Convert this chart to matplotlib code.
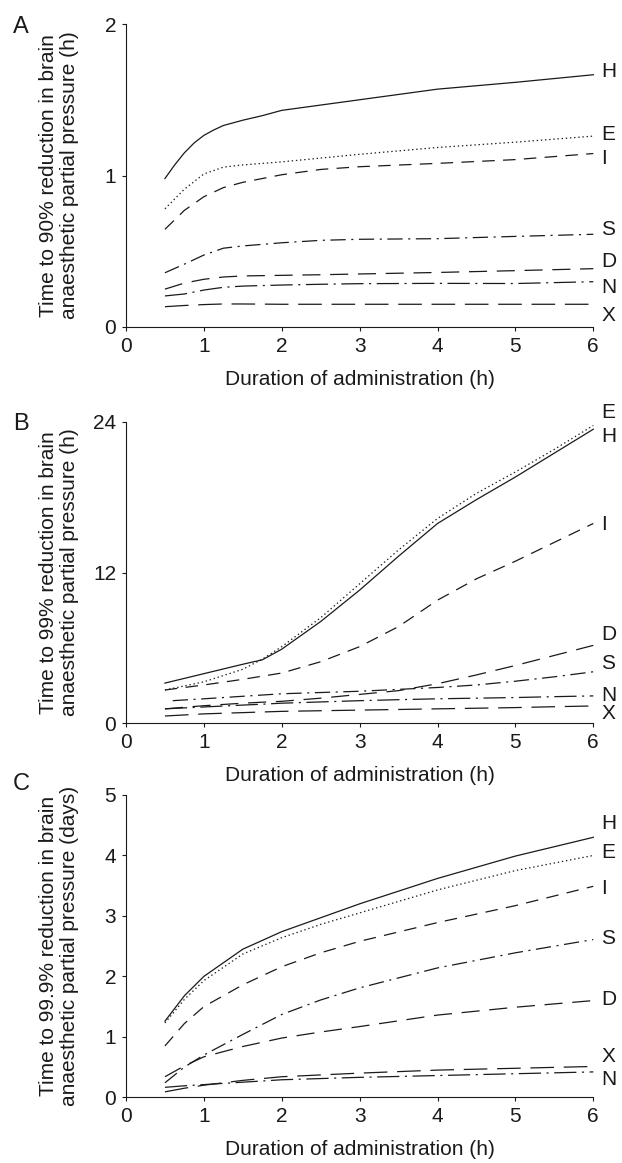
import matplotlib
matplotlib.use("Agg")
import matplotlib.pyplot as plt

plt.rcParams["font.family"] = ["Liberation Sans", "DejaVu Sans"]
plt.rcParams["lines.scale_dashes"] = False

# ---- data ----
drugs = ["H", "E", "I", "S", "D", "N", "X"]

# panel A: time to 90% reduction (h)
xa = [0.5, 0.75, 1, 1.25, 1.5, 2, 2.5, 3, 4, 5, 6]
xa_H = [0.5, 0.625, 0.75, 0.875, 1, 1.125, 1.25, 1.5, 1.75, 2, 2.5, 3, 4, 5, 6]
a_H = [0.98, 1.07, 1.15, 1.215, 1.265, 1.30, 1.33, 1.365, 1.395, 1.43,
       1.465, 1.50, 1.57, 1.615, 1.665]
a_E = [0.78, 0.91, 1.01, 1.055, 1.07, 1.09, 1.115, 1.14, 1.185, 1.22, 1.26]
a_I = [0.645, 0.77, 0.86, 0.92, 0.955, 1.005, 1.04, 1.058, 1.08, 1.105, 1.145]
a_S = [0.358, 0.415, 0.475, 0.52, 0.535, 0.556, 0.572, 0.579, 0.583, 0.598, 0.612]
a_D = [0.25, 0.29, 0.315, 0.33, 0.337, 0.341, 0.345, 0.35, 0.36, 0.372, 0.385]
a_N = [0.205, 0.218, 0.244, 0.262, 0.27, 0.277, 0.282, 0.286, 0.288, 0.287, 0.299]
a_X = [0.134, 0.142, 0.148, 0.152, 0.152, 0.15, 0.15, 0.15, 0.15, 0.15, 0.15]

# panel B: time to 99% reduction (h)
xb = [0.5, 1, 1.5, 1.75, 2, 2.5, 3, 3.5, 4, 4.5, 5, 5.5, 6]
xb_S = [0.6, 1, 1.5, 2, 2.5, 3, 3.5, 4, 4.5, 5, 5.5, 6]
b_H = [3.2, 3.95, 4.7, 5.05, 5.9, 8.1, 10.6, 13.3, 15.9, 17.8, 19.6, 21.5, 23.4]
b_E = [2.65, 3.3, 4.3, 5.1, 6.1, 8.4, 11.1, 13.8, 16.3, 18.3, 20.0, 21.8, 23.7]
b_I = [2.65, 3.05, 3.5, 3.75, 4.0, 4.9, 6.1, 7.7, 9.8, 11.5, 12.9, 14.4, 15.9]
b_S = [1.8, 1.95, 2.15, 2.35, 2.45, 2.55, 2.7, 2.85, 3.05, 3.35, 3.7, 4.1]
b_D = [1.15, 1.4, 1.6, 1.68, 1.75, 2.0, 2.3, 2.6, 3.15, 3.85, 4.6, 5.4, 6.2]
b_N = [1.15, 1.3, 1.45, 1.52, 1.6, 1.7, 1.8, 1.88, 1.95, 2.0, 2.05, 2.12, 2.18]
b_X = [0.58, 0.75, 0.85, 0.9, 0.95, 1.0, 1.05, 1.1, 1.15, 1.2, 1.25, 1.32, 1.38]

# panel C: time to 99.9% reduction (days)
xc = [0.5, 0.75, 1, 1.5, 2, 2.5, 3, 4, 5, 6]
c_H = [1.26, 1.68, 2.0, 2.45, 2.74, 2.97, 3.2, 3.62, 3.99, 4.30]
c_E = [1.23, 1.62, 1.93, 2.37, 2.64, 2.86, 3.05, 3.43, 3.75, 4.0]
c_I = [0.85, 1.22, 1.5, 1.86, 2.16, 2.39, 2.58, 2.89, 3.17, 3.49]
c_S = [0.24, 0.5, 0.7, 1.04, 1.37, 1.61, 1.81, 2.14, 2.39, 2.61]
c_D = [0.34, 0.52, 0.67, 0.84, 0.98, 1.08, 1.17, 1.36, 1.49, 1.60]
c_N = [0.165, 0.19, 0.21, 0.25, 0.29, 0.31, 0.33, 0.36, 0.39, 0.42]
c_X = [0.09, 0.15, 0.2, 0.28, 0.34, 0.37, 0.4, 0.45, 0.48, 0.51]

panels = [
    dict(letter="A", ylim=(0, 2), yticks=[0, 1, 2],
         ylabel="Time to 90% reduction in brain\nanaesthetic partial pressure (h)",
         series={"H": (xa_H, a_H), "E": (xa, a_E), "I": (xa, a_I), "S": (xa, a_S),
                 "D": (xa, a_D), "N": (xa, a_N), "X": (xa, a_X)},
         label_y={"H": 1.685, "E": 1.27, "I": 1.11, "S": 0.643, "D": 0.43,
                  "N": 0.264, "X": 0.077}),
    dict(letter="B", ylim=(0, 24), yticks=[0, 12, 24],
         ylabel="Time to 99% reduction in brain\nanaesthetic partial pressure (h)",
         series={"H": (xb, b_H), "E": (xb, b_E), "I": (xb, b_I), "S": (xb_S, b_S),
                 "D": (xb, b_D), "N": (xb, b_N), "X": (xb, b_X)},
         label_y={"H": 22.8, "E": 24.7, "I": 15.8, "S": 4.77, "D": 7.03,
                  "N": 2.25, "X": 0.8}),
    dict(letter="C", ylim=(0, 5), yticks=[0, 1, 2, 3, 4, 5],
         ylabel="Time to 99.9% reduction in brain\nanaesthetic partial pressure (days)",
         series={"H": (xc, c_H), "E": (xc, c_E), "I": (xc, c_I), "S": (xc, c_S),
                 "D": (xc, c_D), "N": (xc, c_N), "X": (xc, c_X)},
         label_y={"H": 4.53, "E": 4.05, "I": 3.45, "S": 2.62, "D": 1.61,
                  "N": 0.29, "X": 0.68}),
]

styles = {
    "H": "-",
    "E": (0, (1, 2)),
    "I": (0, (9, 6)),
    "S": (0, (11, 4, 1.5, 4)),
    "D": (0, (13, 7)),
    "N": (0, (16, 4, 1.5, 4)),
    "X": (0, (17, 7)),
}

INK = "#1a1a1a"
FS = 15

fig = plt.figure(figsize=(6.22, 11.63), dpi=100)
W, H = 622, 1163
left, right = 126, 593.3
boxes = [(24, 327), (421.7, 723.3), (795, 1097.3)]   # top, bottom in px
letter_base = [33, 430, 790]

for p, (top, bot), lb in zip(panels, boxes, letter_base):
    ax = fig.add_axes([left / W, 1 - bot / H, (right - left) / W, (bot - top) / H])
    for d in drugs:
        x, y = p["series"][d]
        ax.plot(x, y, color=INK, lw=0.9, ls=styles[d], clip_on=False)
        ax.text(6.1, p["label_y"][d], d, ha="left", va="center", fontsize=FS,
                color=INK, clip_on=False)
    ax.set_xlim(0, 6)
    ax.set_ylim(*p["ylim"])
    ax.set_xticks(range(7))
    ax.set_yticks(p["yticks"])
    for s in ["top", "right"]:
        ax.spines[s].set_visible(False)
    for s in ["left", "bottom"]:
        ax.spines[s].set_linewidth(0.8)
        ax.spines[s].set_color(INK)
    ax.tick_params(direction="out", length=3, width=0.8, labelsize=FS,
                   colors=INK, pad=4)
    ax.text(0.5, -0.172, "Duration of administration (h)", transform=ax.transAxes,
            ha="center", va="center", fontsize=FS, color=INK)
    fig.text(59 / W, 1 - (top + bot) / 2 / H, p["ylabel"], rotation=90,
             ha="center", va="center", fontsize=FS, color=INK, linespacing=1.1)
    fig.text(13 / W, 1 - lb / H, p["letter"], ha="left", va="baseline",
             fontsize=17, color=INK)

fig.savefig("out.png", dpi=100)
